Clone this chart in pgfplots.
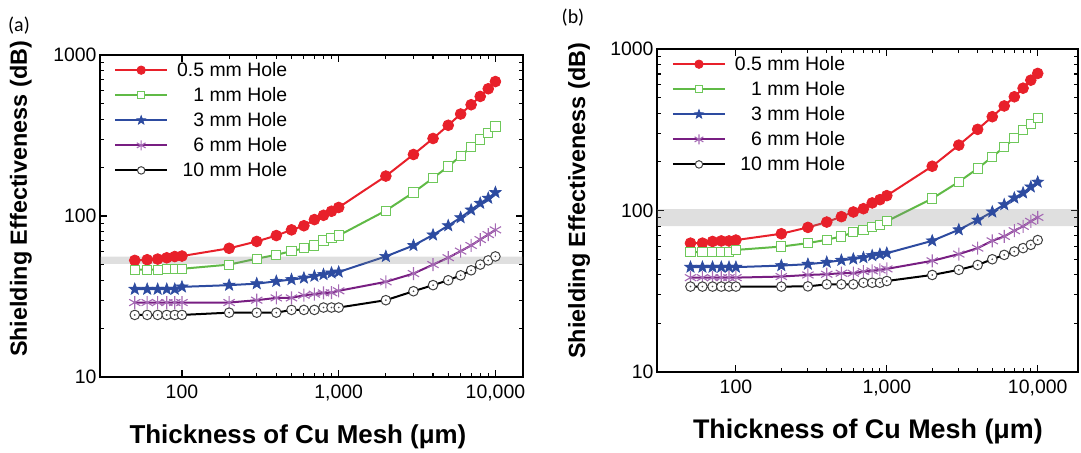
\documentclass[border=0pt]{standalone}
\usepackage{fontspec}
\setmainfont{Liberation Sans}
\newfontfamily\carlito{Carlito}
\usepackage{pgfplots}
\usepackage{pgfplotstable}
\pgfplotsset{compat=1.18}

\definecolor{cRed}{RGB}{232,32,42}
\definecolor{cGreen}{RGB}{96,186,70}
\definecolor{cGreenM}{RGB}{110,200,90}
\definecolor{cBlue}{RGB}{45,75,160}
\definecolor{cPurple}{RGB}{120,30,130}
\definecolor{cPurpleM}{RGB}{165,105,180}

% filled five-pointed star
\pgfdeclareplotmark{fstar}{%
  \pgfpathmoveto{\pgfpointpolar{90}{\pgfplotmarksize}}%
  \pgfpathlineto{\pgfpointpolar{126}{0.42\pgfplotmarksize}}%
  \pgfpathlineto{\pgfpointpolar{162}{\pgfplotmarksize}}%
  \pgfpathlineto{\pgfpointpolar{198}{0.42\pgfplotmarksize}}%
  \pgfpathlineto{\pgfpointpolar{234}{\pgfplotmarksize}}%
  \pgfpathlineto{\pgfpointpolar{270}{0.42\pgfplotmarksize}}%
  \pgfpathlineto{\pgfpointpolar{306}{\pgfplotmarksize}}%
  \pgfpathlineto{\pgfpointpolar{342}{0.42\pgfplotmarksize}}%
  \pgfpathlineto{\pgfpointpolar{18}{\pgfplotmarksize}}%
  \pgfpathlineto{\pgfpointpolar{54}{0.42\pgfplotmarksize}}%
  \pgfpathclose
  \pgfusepathqfillstroke}

% Shielding effectiveness (dB) versus mesh thickness (um), one column per hole size
\pgfplotstableread{
x     h05   h1    h3    h6    h10
50    53    46.4  35.1  29.0  24.3
60    53.5  46.4  35.1  29.0  24.3
70    54    46.4  35.1  29.0  24.3
80    55    47    35.1  29.0  24.3
90    56    47    35.1  29.0  24.3
100   56.4  47    36.3  29.0  24.3
200   63    49.9  37.2  29.0  25.1
300   69.5  54.3  38.0  30.0  25.1
400   75.6  57.4  39.3  31.0  25.1
500   82    60.5  40.3  31.0  26.1
600   87    63    41.2  32.2  26.1
700   95    65.6  42.3  32.7  26.1
800   101   70.5  43.3  33.3  27.0
900   107   73.1  44.3  33.4  27.0
1000  113   75.6  44.9  34.3  27.0
2000  177   108   56.1  39.0  30.0
3000  241   140   65.6  43.9  34.1
4000  303   172   76.3  49.9  37.2
5000  366   203   87.1  55.1  39.9
6000  430   236   97.7  60.5  42.8
7000  491   268   109   65.6  46.0
8000  553   299   120   71.4  49.9
9000  617   328   129   76.7  53.0
10000 684   360   140   82    56.1
}\dataA

\pgfplotstableread{
x     h05   h1    h3    h6    h10
50    62.8  55.2  44.6  38.4  33.8
60    62.8  55.2  44.6  38.4  33.8
70    64.3  55.6  44.6  38.4  33.8
80    64.8  55.6  44.6  38.4  33.8
90    64.8  55.6  44.6  38.4  33.8
100   65.6  57.0  44.6  38.4  33.8
200   71.8  59.8  45.6  39.0  33.8
300   78.6  62.8  46.5  39.9  33.9
400   84.8  65.9  47.8  40.3  34.9
500   91.6  69.1  49.2  40.9  34.9
600   97.9  73.2  50.1  40.9  34.9
700   102.6 76.0  51.1  41.9  35.7
800   111.4 78.9  52.6  42.3  35.7
900   116.7 81.7  53.6  42.9  35.7
1000  123.6 85.7  54.4  43.5  36.6
2000  188   118.6 64.9  48.8  39.9
3000  254   150.4 76.0  53.7  42.9
4000  318   182   87.3  58.5  46.0
5000  381   215   98    64.9  49.9
6000  444   247   108.7 69.1  53.1
7000  506   280   119.6 75    55.7
8000  572   315   128.5 79.8  58.5
9000  641   345   140   85.7  61.3
10000 706   372   150   90.7  65.6
}\dataB

% series styles (plain TikZ keys, usable in plots and legend samples)
\tikzset{
  sRed/.style={cRed, line width=2bp, mark=*, mark size=5.4bp, mark options={solid, fill=cRed, draw=cRed, line width=0.8bp}},
  sGreen/.style={cGreen, line width=2bp, mark=square*, mark size=4.6bp, mark options={solid, fill=white, draw=cGreenM, line width=1bp}},
  sBlue/.style={cBlue, line width=2bp, mark=fstar, mark size=6.2bp, mark options={solid, fill=cBlue, draw=cBlue, line width=0.6bp}},
  sPurple/.style={cPurple, line width=2bp, mark=asterisk, mark size=6.5bp, mark options={solid, draw=cPurpleM, line width=1.1bp}},
  sBlack/.style={black, line width=2bp, mark=*, mark size=4.8bp, mark options={solid, fill=white, draw=black!75, line width=1bp}},
  sDot/.style={only marks, mark=*, mark size=0.6bp, black!70},
}

% legend sample: a line with a smaller marker in its middle
\pgfplotsset{
  legend image code/.code={\draw[mark repeat=2,mark phase=2,#1,
      every mark/.append style={scale=0.78}]
    plot coordinates {(0bp,0bp) (26bp,0bp) (52bp,0bp)};},
}

\begin{document}
\begin{tikzpicture}
\useasboundingbox (0bp,0bp) rectangle (1081bp,453bp);

% panel (a)
\node[font=\carlito\fontsize{20}{22}\selectfont] at (19bp,427bp) {(a)};
\begin{axis}[
  scale only axis,
  xmode=log, ymode=log,
  xmin=30, xmax=15000, ymin=10, ymax=1000,
  xtick={100,1000,10000}, xticklabels={100,{1,000},{10,000}},
  ytick={10,100,1000}, yticklabels={10,100,1000},
  tick align=inside,
  major tick length=7bp, minor tick length=4bp,
  every tick/.style={black, line width=1.1bp},
  axis line style={line width=1.5bp},
  ticklabel style={font=\fontsize{19.5}{21}\selectfont},
  xticklabel style={yshift=-4bp},
  legend cell align=right,
  legend style={draw=none, fill=none, font=\fontsize{19.5}{23}\selectfont,
    at={(0.026,0.99)}, anchor=north west, row sep=5.5bp, column sep=7bp},
  xlabel={\bfseries Thickness of Cu Mesh (μm)},
  ylabel={\bfseries Shielding Effectiveness (dB)},
  xlabel style={font=\fontsize{26}{30}\selectfont, at={(axis description cs:0.468,0)}, anchor=center, yshift=-60bp},
  ylabel style={font=\fontsize{23.5}{27}\selectfont, at={(axis description cs:-0.187,0.553)}, anchor=center},
  at={(100bp,76bp)}, anchor=south west, width=423bp, height=322bp,
]
\addplot[sRed]    table[x=x, y=h05] {\dataA};
\addplot[sGreen]  table[x=x, y=h1]  {\dataA};
\addplot[sBlue]   table[x=x, y=h3]  {\dataA};
\addplot[sPurple] table[x=x, y=h6]  {\dataA};
\addplot[sBlack]  table[x=x, y=h10] {\dataA};
\addplot[sDot, forget plot] table[x=x, y=h10] {\dataA};
\addplot[draw=none, fill=gray, fill opacity=0.25, forget plot]
  coordinates {(30,50.5) (15000,50.5) (15000,56) (30,56) (30,50.5)};
\legend{0.5 mm Hole, 1 mm Hole, 3 mm Hole, 6 mm Hole, 10 mm Hole}
\end{axis}

% panel (b)
\node[font=\carlito\fontsize{20}{22}\selectfont] at (573bp,435bp) {(b)};
\begin{axis}[
  scale only axis,
  xmode=log, ymode=log,
  xmin=30, xmax=18500, ymin=10, ymax=1000,
  xtick={100,1000,10000}, xticklabels={100,{1,000},{10,000}},
  ytick={10,100,1000}, yticklabels={10,100,1000},
  tick align=inside,
  major tick length=7bp, minor tick length=4bp,
  every tick/.style={black, line width=1.1bp},
  axis line style={line width=1.5bp},
  ticklabel style={font=\fontsize{19.5}{21}\selectfont},
  xticklabel style={yshift=-4bp},
  legend cell align=right,
  legend style={draw=none, fill=none, font=\fontsize{19.5}{23}\selectfont,
    at={(0.028,0.99)}, anchor=north west, row sep=5.5bp, column sep=7bp},
  xlabel={\bfseries Thickness of Cu Mesh (μm)},
  ylabel={\bfseries Shielding Effectiveness (dB)},
  xlabel style={font=\fontsize{27}{31}\selectfont, at={(axis description cs:0.501,0)}, anchor=center, yshift=-60bp},
  ylabel style={font=\fontsize{23.5}{27}\selectfont, at={(axis description cs:-0.185,0.53)}, anchor=center},
  at={(657bp,81bp)}, anchor=south west, width=421bp, height=323bp,
]
\addplot[sRed]    table[x=x, y=h05] {\dataB};
\addplot[sGreen]  table[x=x, y=h1]  {\dataB};
\addplot[sBlue]   table[x=x, y=h3]  {\dataB};
\addplot[sPurple] table[x=x, y=h6]  {\dataB};
\addplot[sBlack]  table[x=x, y=h10] {\dataB};
\addplot[sDot, forget plot] table[x=x, y=h10] {\dataB};
\addplot[draw=none, fill=gray, fill opacity=0.25, forget plot]
  coordinates {(30,80) (18500,80) (18500,102) (30,102) (30,80)};
\legend{0.5 mm Hole, 1 mm Hole, 3 mm Hole, 6 mm Hole, 10 mm Hole}
\end{axis}
\end{tikzpicture}
\end{document}
